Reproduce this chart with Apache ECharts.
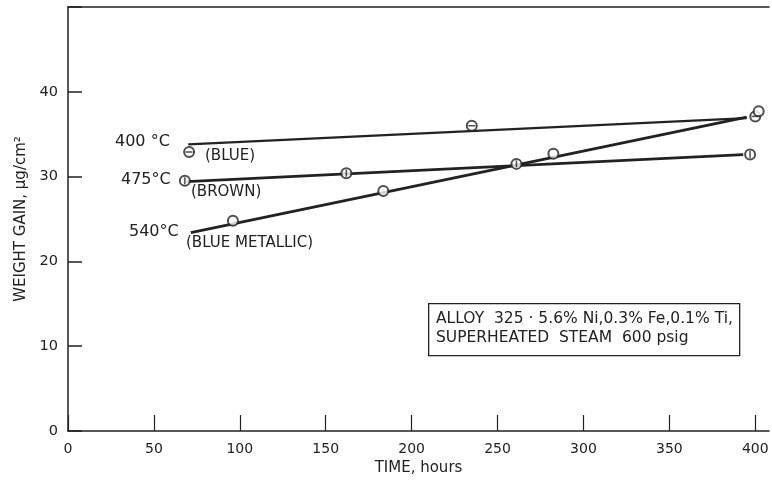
<!DOCTYPE html>
<html>
<head>
<meta charset="utf-8">
<script src="https://cdn.jsdelivr.net/npm/echarts@6/dist/echarts.min.js"></script>
<style>
  html, body { margin: 0; padding: 0; background: #fff; overflow: hidden; }
  #chart { width: 772px; height: 481px; }
</style>
</head>
<body>
<div id="chart"></div>
<script>
// measured points (hours, weight gain µg/cm2)
const pts400 = [[70.5, 32.9], [235, 36.0], [400, 37.1]];
const pts475 = [[68, 29.5], [162, 30.4], [261, 31.5], [397, 32.6]];
const pts540 = [[96, 24.8], [183.5, 28.3], [282.5, 32.7], [402, 37.7]];

// drawn straight lines
const fit400 = [[70, 33.8], [395, 36.9]];
const fit475 = [[69, 29.4], [393, 32.6]];
const fit540 = [[71.5, 23.4], [395, 37.0]];

const xTicks = [0, 50, 100, 150, 200, 250, 300, 350, 400];
const yTicks = [0, 10, 20, 30, 40];

const ink = '#222';
const font = 'DejaVu Sans';

const chart = echarts.init(document.getElementById('chart'));

function fitLine(data, w) {
    return {
        type: 'line', data: data, symbol: 'none', z: 2,
        lineStyle: { color: ink, width: w }
    };
}
function markers(data) {
    return {
        type: 'scatter', data: data, symbol: 'emptyCircle', symbolSize: 10, z: 3,
        itemStyle: { color: ink, borderColor: ink, borderWidth: 1.5 }
    };
}
function bars(data, size) {
    return {
        type: 'scatter', data: data, symbol: 'rect', symbolSize: size, z: 4,
        itemStyle: { color: ink }
    };
}

function label(text, x, y, size) {
    return {
        type: 'text', left: x, top: y,
        style: { text: text, fill: ink, font: size + 'px "' + font + '"' }
    };
}

let option = {
    animation: false,
    backgroundColor: '#fff',
    grid: { left: 68, top: 7, bottom: 48, right: 3 },
    xAxis: [{
        type: 'value', min: 0, max: 408, interval: 50,
        name: 'TIME, hours', nameLocation: 'middle', nameGap: 30,
        nameTextStyle: { color: ink, fontSize: 15, fontFamily: font },
        axisLine: { lineStyle: { color: ink, width: 1.5 } },
        axisTick: { inside: true, length: 16, lineStyle: { color: ink, width: 1.2 } },
        axisLabel: {
            color: ink, fontSize: 14, fontFamily: font, margin: 11,
            showMaxLabel: false,
            formatter: v => xTicks.includes(v) ? String(v) : ''
        },
        splitLine: { show: false }
    }, {
        type: 'value', position: 'top', min: 0, max: 408,
        axisLine: { show: true, lineStyle: { color: ink, width: 1.5 } },
        axisTick: { show: false }, axisLabel: { show: false },
        splitLine: { show: false }
    }],
    yAxis: {
        type: 'value', min: 0, max: 50, interval: 10,
        name: 'WEIGHT GAIN, µg/cm²', nameLocation: 'middle', nameGap: 38,
        nameTextStyle: { color: ink, fontSize: 15, fontFamily: font },
        axisLine: { lineStyle: { color: ink, width: 1.5 } },
        axisTick: { inside: true, length: 14, lineStyle: { color: ink, width: 1.5 } },
        axisLabel: {
            color: ink, fontSize: 14.5, fontFamily: font, margin: 10,
            formatter: v => yTicks.includes(v) ? String(v) : ''
        },
        splitLine: { show: false }
    },
    series: [
        fitLine(fit400, 2.2),
        fitLine(fit475, 2.8),
        fitLine(fit540, 2.8),
        markers(pts400),
        markers(pts475),
        markers(pts540),
        bars(pts400, [7, 1.5]),
        bars(pts475, [1.5, 7])
    ],
    graphic: [
        label('400 °C', 115, 134, 16),
        label('(BLUE)', 205, 149, 15),
        label('475°C', 121, 172, 16),
        label('(BROWN)', 191, 185, 15),
        label('540°C', 129, 224, 16),
        label('(BLUE METALLIC)', 186, 236, 15),
        {
            type: 'rect', left: 428, top: 303,
            shape: { width: 311, height: 52 },
            style: { fill: '#fff', stroke: ink, lineWidth: 1.3 }
        },
        label('ALLOY  325 · 5.6% Ni,0.3% Fe,0.1% Ti,', 436, 311, 15.5),
        label('SUPERHEATED  STEAM  600 psig', 436, 330, 15.5)
    ]
};

chart.setOption(option);
</script>
</body>
</html>
